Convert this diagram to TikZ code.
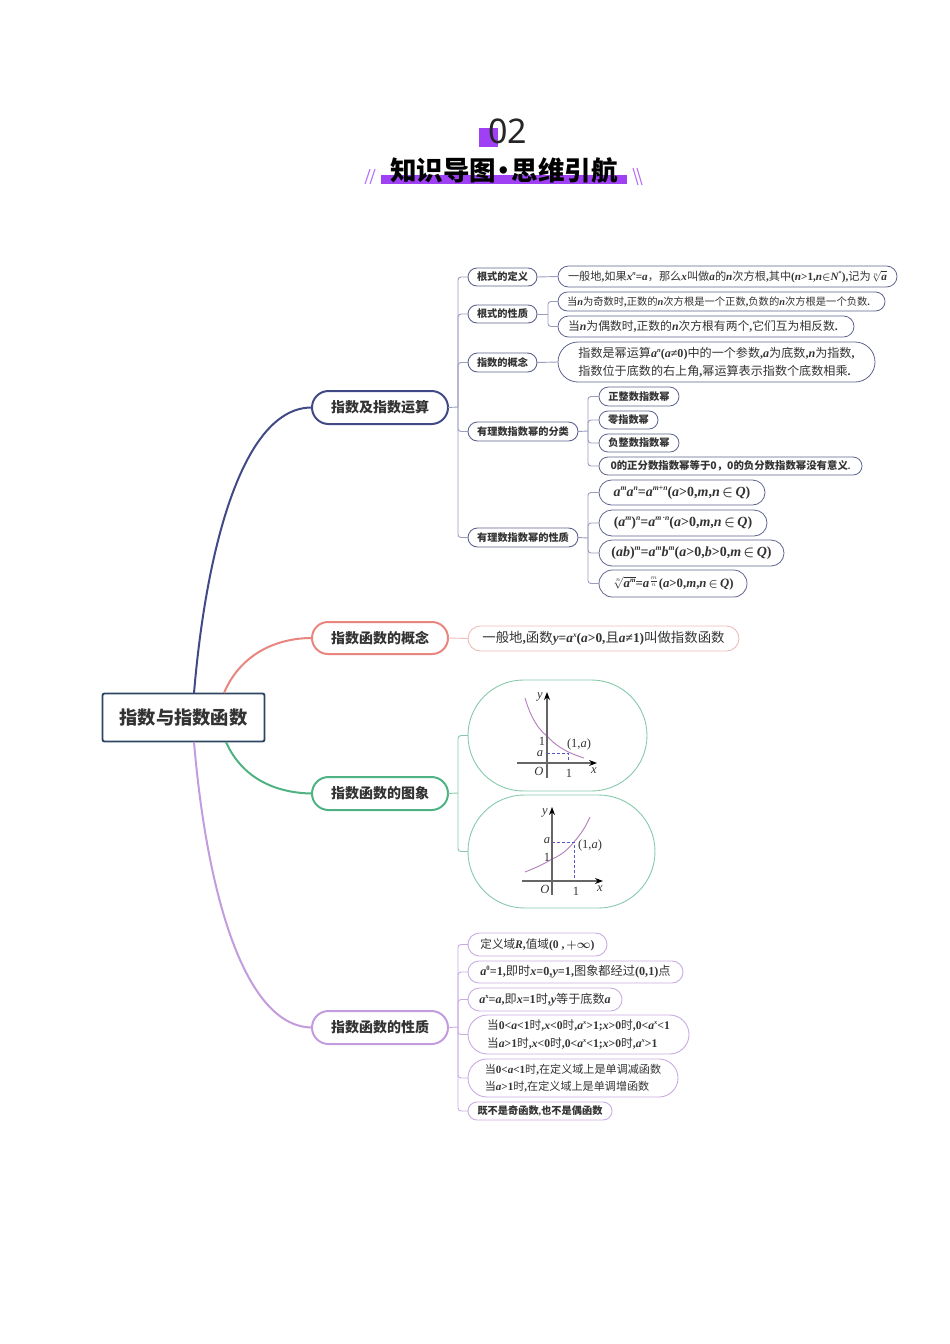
\documentclass[tikz,border=0pt]{standalone}
\usepackage{fontspec}
\usepackage{amsmath}
\usepackage{graphicx}
\usetikzlibrary{arrows.meta}
\setmainfont{Noto Sans CJK SC}
\newfontfamily\lat{Liberation Serif}
\newfontfamily\notolat{Noto Sans}
\newcommand\Iv[1]{{\lat\bfseries\itshape #1}}
\newcommand\Bv[1]{{\lat\bfseries #1}}
\newcommand\Up[1]{\raisebox{.42em}{\scalebox{.55}{#1}}}
\newcommand\Gi[1]{{\lat\itshape #1}}
\newcommand\Gr[1]{{\lat #1}}
\definecolor{navy}{HTML}{414A86}
\definecolor{navyL}{HTML}{9A9DBD}
\definecolor{navyM}{HTML}{5E648F}
\definecolor{redM}{HTML}{E8857F}
\definecolor{redL}{HTML}{EDBDB9}
\definecolor{grnM}{HTML}{4FB283}
\definecolor{grnL}{HTML}{86C9AA}
\definecolor{purM}{HTML}{C29CDF}
\definecolor{purL}{HTML}{C9ABE3}
\definecolor{rootc}{HTML}{2C4560}
\definecolor{ttl}{HTML}{A040F5}
\definecolor{txt}{HTML}{333333}
\definecolor{funcc}{HTML}{B27DBB}
\definecolor{dashc}{HTML}{5555CC}
\tikzset{
  pillbase/.style={draw,inner sep=0pt,outer sep=0pt,text=txt,align=left},
  fs/.style={font=\fontsize{#1}{18}\selectfont},
  branch/.style={line width=2pt,font=\fontsize{14}{18}\selectfont\bfseries},
  subn/.style={draw=navyM,line width=.9pt,font=\fontsize{10.2}{18}\selectfont\bfseries},
  leafn/.style={draw=navyM,line width=.8pt},
  curve/.style={line width=2pt},
  conn/.style={line width=.9pt,rounded corners=3pt},
  axisl/.style={draw=black!60,line width=1.1pt,-{Stealth[black,length=8pt,width=6pt]}},
  func/.style={draw=funcc,line width=.9pt},
  dashb/.style={draw=dashc,line width=.8pt,dashed,dash pattern=on 3pt off 2pt},
  glab/.style={inner sep=0pt,text=txt,font=\fontsize{12.5}{14}\selectfont},
}
\newcommand\pl[7]{%
  \pgfmathsetmacro\plcx{(#3+#4)/2}\pgfmathsetmacro\plcy{(#5+#6)/2}%
  \pgfmathsetmacro\plw{#4-#3}\pgfmathsetmacro\plh{#6-#5}\pgfmathsetmacro\plr{(#6-#5)/2-0.01}%
  \node[pillbase,#2,minimum width=\plw pt,minimum height=\plh pt,rounded corners=\plr pt] (#1) at (\plcx,\plcy) {#7};}
\begin{document}
\begin{tikzpicture}[x=1pt,y=-1pt]
\useasboundingbox (0,0) rectangle (950,1344);
% title
\fill[ttl] (479,128) rectangle (498,147);
\node[inner sep=0pt,text=black!85,font=\fontsize{34}{36}\selectfont\notolat] (t02) at (507.5,131) {02};
\fill[ttl] (381,175) rectangle (627,184);
\node[inner sep=0pt,text=black,font=\fontsize{26.5}{30}\selectfont\bfseries] (ttext) at (504,170) {知识导图\kern-5.5pt·\kern-5.5pt思维引航};
\draw[ttl!75,line width=1.1pt] (370,169)--(365,184) (375,169)--(370,184) (633,168)--(638,185) (637,168)--(642,185);
% root
\node[draw=rootc,line width=1.9pt,rounded corners=2pt,minimum width=162pt,minimum height=48pt,inner sep=0pt,text=txt,font=\fontsize{18.3}{20}\selectfont\bfseries] (root) at (183.5,717.5) {指数与指数函数};
% branches
\pl{b1}{branch,draw=navy}{312}{448}{391}{424}{指数及指数运算}
\pl{b2}{branch,draw=redM}{312}{448}{622}{654}{指数函数的概念}
\pl{b3}{branch,draw=grnM}{312}{448}{777}{810}{指数函数的图象}
\pl{b4}{branch,draw=purM}{312}{448}{1011}{1044}{指数函数的性质}
\coordinate (r1) at (194,693);
\coordinate (r2) at (224,693);
\coordinate (r3) at (226,742);
\coordinate (r4) at (194,742);
\draw[curve,navy] (r1) .. controls (207,540) and (245,407) .. (b1.west);
\draw[curve,redM] (r2) .. controls (240,655) and (275,638) .. (b2.west);
\draw[curve,grnM] (r3) .. controls (242,778) and (275,793) .. (b3.west);
\draw[curve,purM] (r4) .. controls (207,895) and (245,1027) .. (b4.west);
% level 2 of branch 1
\pl{a1}{subn}{468}{537}{268}{286}{根式的定义}
\pl{a2}{subn}{468}{537}{305}{323}{根式的性质}
\pl{a3}{subn}{468}{537}{353}{372}{指数的概念}
\pl{a4}{subn}{468}{578}{422}{441}{有理数指数幂的分类}
\pl{a5}{subn}{468}{578}{528}{547}{有理数指数幂的性质}
\coordinate (s1) at (458,407);
\draw[conn,navyL] (b1.east) -- (s1);
\foreach \k in {a1,a2,a3,a4,a5} \draw[conn,navyL] (s1) |- (\k.west);
% leaves
\pl{c1}{leafn,fs=11.2}{558}{897}{266}{287}{一般地\Bv{,}如果\Iv{x}\Up{\Iv{n}}\Bv{=}\Iv{a}，那么\Iv{x}叫做\Iv{a}的\Iv{n}次方根\Bv{,}其中\Bv{(}\Iv{n}\Bv{>1,}\Iv{n}{\boldmath$\in$}\Iv{N}\Up{\Bv{*}}\Bv{),}记为$\sqrt[n]{\hbox{\Iv{a}}}$}
\pl{c2}{leafn,fs=10.3}{558}{885}{292}{311}{当\Iv{n}为奇数时\Bv{,}正数的\Iv{n}次方根是一个正数\Bv{,}负数的\Iv{n}次方根是一个负数\Bv{.}\kern6pt}
\pl{c3}{leafn,fs=11.8}{558}{854}{316}{337}{当\Iv{n}为偶数时\Bv{,}正数的\Iv{n}次方根有两个\Bv{,}它们互为相反数\Bv{.}\kern6pt}
\pl{c4}{leafn,fs=12.1}{558}{875}{342}{382}{指数是幂运算\Iv{a}\Up{\Iv{n}}\Bv{(}\Iv{a}\Bv{≠0)}中的一个参数\Bv{,}\Iv{a}为底数\Bv{,}\Iv{n}为指数\Bv{,}\\指数位于底数的右上角\Bv{,}幂运算表示指数个底数相乘\Bv{.}}
\draw[conn,navyL] (a1.east) -- (c1.west);
\coordinate (s2) at (548,314);
\draw[conn,navyL] (a2.east) -- (s2);
\draw[conn,navyL] (s2) |- (c2.west);
\draw[conn,navyL] (s2) |- (c3.west);
\draw[conn,navyL] (a3.east) -- (c4.west);
\pl{d1}{leafn,font=\fontsize{10.2}{18}\selectfont\bfseries}{599}{679}{387}{406}{正整数指数幂}
\pl{d2}{leafn,font=\fontsize{10.2}{18}\selectfont\bfseries}{599}{658}{411}{429}{零指数幂}
\pl{d3}{leafn,font=\fontsize{10.2}{18}\selectfont\bfseries}{599}{679}{434}{452}{负整数指数幂}
\pl{d4}{leafn,font=\fontsize{10.4}{18}\selectfont\bfseries}{599}{862}{457}{475}{0的正分数指数幂等于0，0的负分数指数幂没有意义\Bv{.}}
\coordinate (s4) at (588,431);
\draw[conn,navyL] (a4.east) -- (s4);
\foreach \k in {d1,d2,d3,d4} \draw[conn,navyL] (s4) |- (\k.west);
\pl{e1}{leafn,fs=14}{599}{765}{480}{505}{\Iv{a}\Up{\Iv{m}}\Iv{a}\Up{\Iv{n}}\Bv{=}\Iv{a}\Up{\Iv{m}\Bv{+}\Iv{n}}\Bv{(}\Iv{a}\Bv{>0,}\Iv{m}\Bv{,}\Iv{n}\,{\boldmath$\in$}\,\Iv{Q}\Bv{)}}
\pl{e2}{leafn,fs=14}{599}{767}{510}{536}{\Bv{(}\Iv{a}\Up{\Iv{m}}\Bv{)}\Up{\Iv{n}}\Bv{=}\Iv{a}\Up{\Iv{m}\,\Bv{·}\Iv{n}}\Bv{(}\Iv{a}\Bv{>0,}\Iv{m}\Bv{,}\Iv{n}\,{\boldmath$\in$}\,\Iv{Q}\Bv{)}}
\pl{e3}{leafn,fs=14}{599}{784}{540}{566}{\Bv{(}\Iv{ab}\Bv{)}\Up{\Iv{m}}\Bv{=}\Iv{a}\Up{\Iv{m}}\Iv{b}\Up{\Iv{m}}\Bv{(}\Iv{a}\Bv{>0,}\Iv{b}\Bv{>0,}\Iv{m}\,{\boldmath$\in$}\,\Iv{Q}\Bv{)}}
\pl{e4}{leafn,fs=12.8}{599}{747}{570}{597}{$\sqrt[n]{\hbox{\Iv{a}\Up{\Iv{m}}}}$\Bv{=}\Iv{a}$^{\frac{m}{n}}$\Bv{(}\Iv{a}\Bv{>0,}\Iv{m}\Bv{,}\Iv{n}\,{\boldmath$\in$}\,\Iv{Q}\Bv{)}}
\coordinate (s5) at (588,538);
\draw[conn,navyL] (a5.east) -- (s5);
\foreach \k in {e1,e2,e3,e4} \draw[conn,navyL] (s5) |- (\k.west);
% branch 2
\pl{f1}{draw=redL,line width=.9pt,fs=13.4}{468}{739}{626}{651}{一般地\Bv{,}函数\Iv{y}\Bv{=}\Iv{a}\Up{\Iv{x}}\Bv{(}\Iv{a}\Bv{>0,}且\Iv{a}\Bv{≠1)}叫做指数函数}
\draw[conn,redL] (b2.east) -- (f1.west);
% branch 3
\pl{g1}{draw=grnL,line width=.9pt}{468}{647}{680}{791}{}
\pl{g2}{draw=grnL,line width=.9pt}{468}{655}{795}{908}{}
\coordinate (s6) at (458,793);
\draw[conn,grnL] (b3.east) -- (s6);
\draw[conn,grnL] (s6) |- (g1.west);
\draw[conn,grnL] (s6) |- (g2.west);
% graph 1
\draw[func] (525,698) .. controls (531,718) and (538,729) .. (547,736) .. controls (555,745) and (565,752) .. (584,758);
\draw[dashb] (547,753) -- (568,753) -- (568,763);
\draw[axisl] (517,763) -- (597,763);
\draw[axisl] (547,778) -- (547,692);
\node[glab] (g1y) at (540,697) {\Gi{y}};
\node[glab] (g11) at (542,741) {\Gr{1}};
\node[glab] (g1a) at (540,754) {\Gi{a}};
\node[glab] (g1p) at (579,744) {\Gr{(1,}\Gi{a}\Gr{)}};
\node[glab] (g1o) at (539,771) {\Gi{O}};
\node[glab] (g1u) at (569,773) {\Gr{1}};
\node[glab] (g1x) at (594,771) {\Gi{x}};
% graph 2
\draw[func] (525,872) .. controls (535,868) and (544,864) .. (552,859) .. controls (562,855) and (568,849) .. (574,842) .. controls (581,834) and (586,826) .. (590,817);
\draw[dashb] (552,842) -- (574,842) -- (574,881);
\draw[axisl] (522,881) -- (603,881);
\draw[axisl] (552,895) -- (552,807);
\node[glab] (g2y) at (545,813) {\Gi{y}};
\node[glab] (g2a) at (547,841) {\Gi{a}};
\node[glab] (g21) at (547,857) {\Gr{1}};
\node[glab] (g2p) at (590,845) {\Gr{(1,}\Gi{a}\Gr{)}};
\node[glab] (g2o) at (545,889) {\Gi{O}};
\node[glab] (g2u) at (576,891) {\Gr{1}};
\node[glab] (g2x) at (600,889) {\Gi{x}};
% branch 4
\tikzset{pleaf/.style={draw=purL,line width=.9pt}}
\pl{h1}{pleaf,fs=11.6}{468}{607}{933}{956}{定义域\Iv{R}\Bv{,}值域\Bv{(0 ,}\,{\boldmath$+\infty$}\Bv{)}}
\pl{h2}{pleaf,fs=12.2}{468}{683}{961}{983}{\Iv{a}\Up{\Bv{0}}\Bv{=1,}即时\Iv{x}\Bv{=0,}\Iv{y}\Bv{=1,}图象都经过\Bv{(0,1)}点}
\pl{h3}{pleaf,fs=12.1}{468}{622}{988}{1011}{\Iv{a}\Up{\Bv{x}}\Bv{=}\Iv{a}\Bv{,}即\Iv{x}\Bv{=1}时\Bv{,}\Iv{y}等于底数\Iv{a}}
\pl{h4}{pleaf,fs=11.7}{468}{689}{1015}{1054}{当\Bv{0<}\Iv{a}\Bv{<1}时\Bv{,}\Iv{x}\Bv{<0}时\Bv{,}\Iv{a}\Up{\Iv{x}}\Bv{>1;}\Iv{x}\Bv{>0}时\Bv{,0<}\Iv{a}\Up{\Iv{x}}\Bv{<1}\\当\Iv{a}\Bv{>1}时\Bv{,}\Iv{x}\Bv{<0}时\Bv{,0<}\Iv{a}\Up{\Iv{x}}\Bv{<1;}\Iv{x}\Bv{>0}时\Bv{,}\Iv{a}\Up{\Iv{x}}\Bv{>1}}
\pl{h5}{pleaf,font=\fontsize{11.1}{17}\selectfont}{468}{678}{1059}{1097}{当\Bv{0<}\Iv{a}\Bv{<1}时\Bv{,}在定义域上是单调减函数\\当\Iv{a}\Bv{>1}时\Bv{,}在定义域上是单调增函数}
\pl{h6}{pleaf,font=\fontsize{10.2}{18}\selectfont\bfseries}{468}{612}{1102}{1120}{既不是奇函数\Bv{,}也不是偶函数}
\coordinate (s7) at (458,1027);
\draw[conn,purL] (b4.east) -- (s7);
\foreach \k in {h1,h2,h3,h4,h5,h6} \draw[conn,purL] (s7) |- (\k.west);
\end{tikzpicture}
\end{document}
